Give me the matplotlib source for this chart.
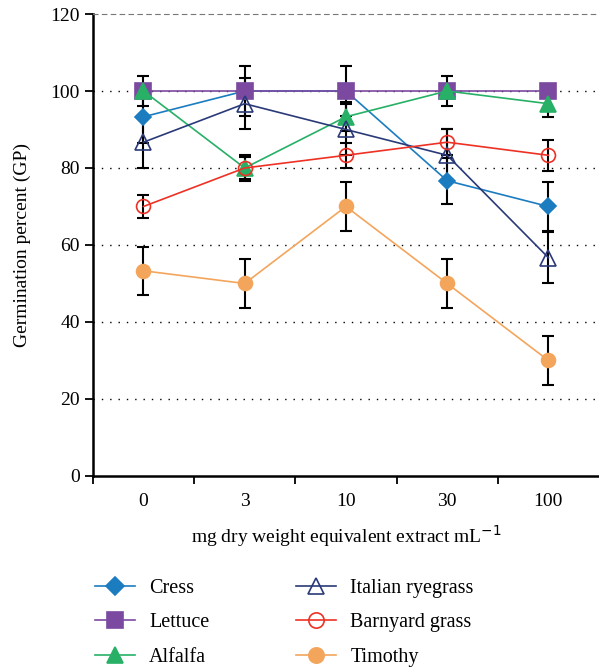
import matplotlib.pyplot as plt

plt.rcParams['font.family'] = ['Liberation Serif', 'DejaVu Serif']

doses = ['0', '3', '10', '30', '100']

labels = ['Cress', 'Lettuce', 'Alfalfa', 'Italian ryegrass', 'Barnyard grass', 'Timothy']

cress = [93.3, 100, 100, 76.7, 70]
cress_err = [6.7, 6.5, 6.5, 6.0, 6.3]
lettuce = [100, 100, 100, 100, 100]
lettuce_err = [0, 0, 0, 0, 0]
alfalfa = [100, 80, 93.3, 100, 96.7]
alfalfa_err = [3.8, 3.3, 3.8, 3.8, 3.4]
ryegrass = [86.7, 96.7, 90, 83.3, 56.7]
ryegrass_err = [6.7, 6.7, 6.5, 6.7, 6.7]
barnyard = [70, 80, 83.3, 86.7, 83.3]
barnyard_err = [3.0, 2.9, 3.3, 3.3, 4.0]
timothy = [53.3, 50, 70, 50, 30]
timothy_err = [6.3, 6.4, 6.4, 6.4, 6.3]

series = [cress, lettuce, alfalfa, ryegrass, barnyard, timothy]
errors = [cress_err, lettuce_err, alfalfa_err, ryegrass_err, barnyard_err, timothy_err]
colors = ['#1B7CC0', '#7B4AA0', '#27B066', '#2A3A78', '#EE3124', '#F4A55C']
markers = ['D', 's', '^', '^', 'o', 'o']
sizes = [8, 11, 11, 11, 10, 10]
filled = [True, True, True, False, False, True]

fig = plt.figure(figsize=(5.99, 6.67), dpi=100)
ax = fig.add_axes([0.155, 0.2864, 0.845, 0.6926])

x = list(range(len(doses)))
handles = []
for i in range(len(series)):
    ax.errorbar(x, series[i], yerr=errors[i], fmt='none', ecolor='black',
                elinewidth=1.5, capsize=4, capthick=1.5, zorder=2)
for i in range(len(series)):
    h, = ax.plot(x, series[i], color=colors[i], lw=1.2, marker=markers[i],
                 markersize=sizes[i], markerfacecolor=colors[i] if filled[i] else 'none',
                 markeredgecolor=colors[i], markeredgewidth=1.2, label=labels[i], zorder=3)
    handles.append(h)

ax.set_xlim(-0.5, 4.5)
ax.set_ylim(0, 120)
ax.set_yticks([0, 20, 40, 60, 80, 100, 120])
ax.set_xticks(x)
ax.set_xticklabels(doses)
ax.tick_params(axis='x', which='major', length=0, pad=12, labelsize=14)
ax.set_xticks([-0.5, 0.5, 1.5, 2.5, 3.5], minor=True)
ax.tick_params(axis='x', which='minor', length=6, width=1.3, direction='out')
ax.tick_params(axis='y', length=6, width=1.3, direction='out', labelsize=14)

for v in [20, 40, 60, 80, 100]:
    ax.axhline(v, color='black', lw=1, linestyle=(0, (1, 5)), zorder=1)

ax.spines['right'].set_visible(False)
ax.spines['top'].set_linestyle((0, (4, 4)))
ax.spines['top'].set_color('#777777')
ax.spines['left'].set_linewidth(1.8)
ax.spines['bottom'].set_linewidth(1.8)

ax.set_ylabel('Germination percent (GP)', fontsize=14, labelpad=14)
ax.set_xlabel('mg dry weight equivalent extract mL$^{-1}$', fontsize=14, labelpad=10)

fig.legend(handles=handles, loc='upper left', bbox_to_anchor=(0.128, 0.159), ncol=2,
           frameon=False, fontsize=14.5, handlelength=2.0, columnspacing=4.3,
           labelspacing=0.75, handletextpad=0.7, markerscale=1.1)

fig.savefig('out.png', dpi=100)
